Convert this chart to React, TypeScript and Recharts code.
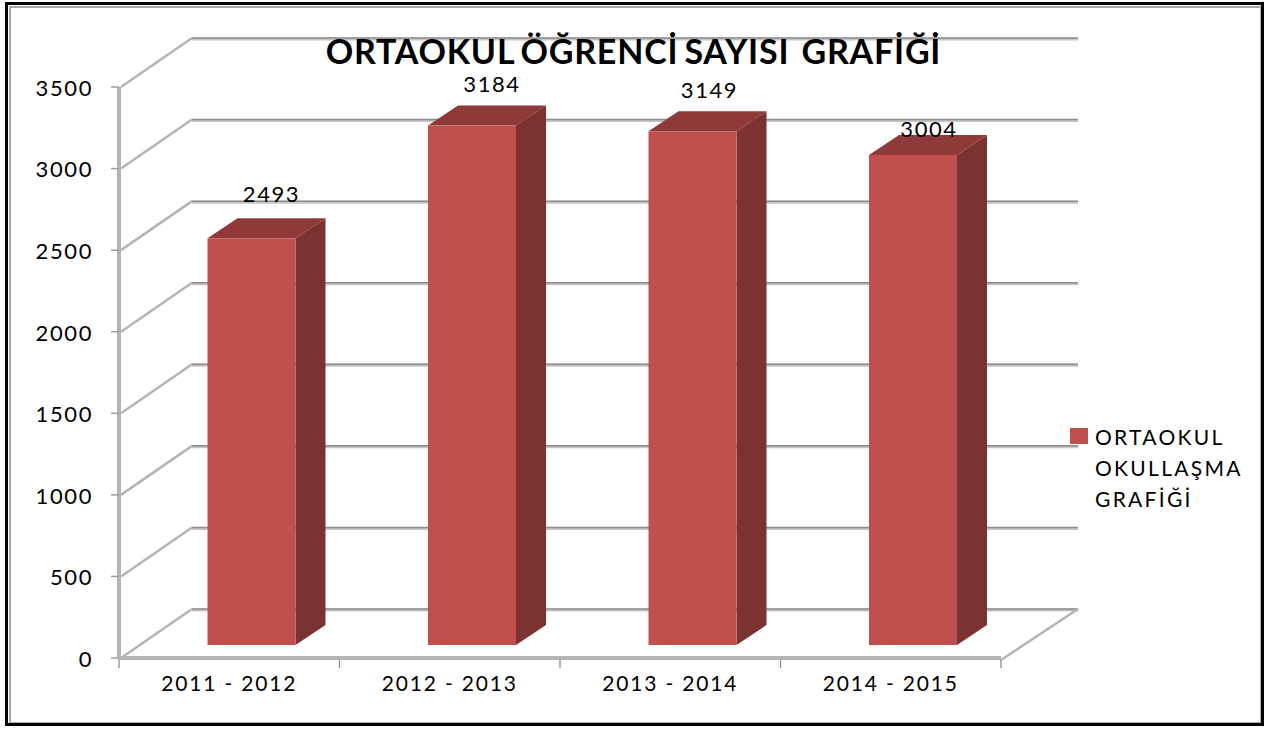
import { Bar, BarChart, CartesianGrid, LabelList, XAxis, YAxis } from 'recharts';

const YEARS = ['2011 - 2012', '2012 - 2013', '2013 - 2014', '2014 - 2015'];
const STUDENTS = [2493, 3184, 3149, 3004];
const Y_TICKS = [0, 500, 1000, 1500, 2000, 2500, 3000, 3500];
const SERIES_NAME = 'ORTAOKUL OKULLAŞMA GRAFİĞİ';
const LEGEND_LINES = ['ORTAOKUL', 'OKULLAŞMA', 'GRAFİĞİ'];
const TITLE = 'ORTAOKUL ÖĞRENCİ SAYISI  GRAFİĞİ';

const chartData = YEARS.map((year, i) => ({ year, students: STUDENTS[i] }));

// fake 3d: how far the back wall sits from the front axis
const WALL_DX = 73;
const WALL_DY = -49;
// bars stand in the middle of the floor
const BAR_DX = 22.5;
const BAR_DY = -13;
const BAR_DEPTH_X = 30;
const BAR_DEPTH_Y = -20;

const PLOT_LEFT = 119;
const PLOT_RIGHT = 1001;
const PLOT_TOP = 87;
const PLOT_BOTTOM = 658;

const FONT = 'Lato, sans-serif';
// data labels sit at uneven heights in the original
const LABEL_LIFT = [45, 42, 42, 26];
const LABEL_SHIFT = [20, 20, 17, 16];

function WallLine(props: any) {
  const { x1, x2, y1 } = props;
  const backY = y1 + WALL_DY;
  const isFloor = y1 >= PLOT_BOTTOM - 1;
  return (
    <g key={props.key}>
      <line x1={x1 + 2} y1={y1} x2={x1 + WALL_DX} y2={backY} stroke="#b4b4b4" strokeWidth={2.5} />
      <line x1={x1 + WALL_DX} y1={backY + 1} x2={x2 + WALL_DX + 4} y2={backY + 1} stroke="#c4c4c4" strokeWidth={3} />
      <line x1={x1 + WALL_DX} y1={backY} x2={x2 + WALL_DX + 4} y2={backY} stroke="#8c8c8c" strokeWidth={1.5} />
      {isFloor && (
        <line x1={x2} y1={y1 + 2} x2={x2 + WALL_DX + 4} y2={backY} stroke="#b4b4b4" strokeWidth={2.5} />
      )}
    </g>
  );
}

function Bar3D(props: any) {
  const { x, y, width, height } = props;
  const left = x + BAR_DX;
  const right = left + width;
  const top = y + BAR_DY;
  const bottom = top + height;
  return (
    <g>
      <polygon
        points={`${left},${top} ${left + BAR_DEPTH_X},${top + BAR_DEPTH_Y} ${right + BAR_DEPTH_X},${top + BAR_DEPTH_Y} ${right},${top}`}
        fill="#8e3a38"
      />
      <polygon
        points={`${right},${top} ${right + BAR_DEPTH_X},${top + BAR_DEPTH_Y} ${right + BAR_DEPTH_X},${bottom + BAR_DEPTH_Y} ${right},${bottom}`}
        fill="#7b3230"
      />
      <rect x={left} y={top} width={width} height={height} fill="#c0504d" />
    </g>
  );
}

function BarValue(props: any) {
  const { x, y, width, value, index } = props;
  return (
    <text
      x={x + BAR_DX + width / 2 + LABEL_SHIFT[index]}
      y={y + BAR_DY - LABEL_LIFT[index]}
      textAnchor="middle"
      dominantBaseline="central"
      fontFamily={FONT}
      fontSize={22}
      letterSpacing={1.6}
      fill="#000"
    >
      {value}
    </text>
  );
}

function YearTick(props: any) {
  const { x, payload, index } = props;
  const band = (PLOT_RIGHT - PLOT_LEFT) / YEARS.length;
  const tickTop = PLOT_BOTTOM + 1;
  return (
    <g>
      <line x1={x - band / 2} y1={tickTop} x2={x - band / 2} y2={tickTop + 9} stroke="#9c9c9c" strokeWidth={1.5} />
      {index === YEARS.length - 1 && (
        <line x1={x + band / 2} y1={tickTop} x2={x + band / 2} y2={tickTop + 9} stroke="#9c9c9c" strokeWidth={1.5} />
      )}
      <text x={x} y={691} textAnchor="middle" fontFamily={FONT} fontSize={21} letterSpacing={1.8} fill="#000">
        {payload.value}
      </text>
    </g>
  );
}

function Legend3D() {
  return (
    <div
      style={{
        position: 'absolute',
        left: 1070,
        top: 421,
        display: 'flex',
        gap: 7,
        fontFamily: FONT,
        fontSize: 21,
        lineHeight: '31px',
        letterSpacing: 2.3,
        color: '#000',
      }}
    >
      <div style={{ width: 18, height: 16, marginTop: 7, background: '#c0504d' }} />
      <div>
        {LEGEND_LINES.map((line) => (
          <div key={line}>{line}</div>
        ))}
      </div>
    </div>
  );
}

export default function App() {
  return (
    <div style={{ position: 'absolute', left: 0, top: 0, width: 1267, height: 731, background: '#fff' }}>
      <BarChart
        width={1267}
        height={731}
        data={chartData}
        barSize={88}
        margin={{ left: 0, right: 1267 - PLOT_RIGHT, top: PLOT_TOP, bottom: 0 }}
      >
        <CartesianGrid vertical={false} horizontal={WallLine} />
        <XAxis
          dataKey="year"
          height={731 - PLOT_BOTTOM}
          tickLine={false}
          axisLine={{ stroke: '#b4b4b4', strokeWidth: 4 }}
          tick={YearTick}
          interval={0}
        />
        <YAxis
          width={PLOT_LEFT}
          domain={[0, 3500]}
          ticks={Y_TICKS}
          tickSize={8}
          tickMargin={18}
          axisLine={{ stroke: '#b4b4b4', strokeWidth: 4 }}
          tickLine={{ stroke: '#9c9c9c', strokeWidth: 1.5 }}
          tick={{ fontFamily: FONT, fontSize: 22, fill: '#000', letterSpacing: 1.6, dy: 1 }}
        />
        <Bar dataKey="students" name={SERIES_NAME} shape={Bar3D} isAnimationActive={false}>
          <LabelList dataKey="students" content={BarValue} />
        </Bar>
      </BarChart>
      <div
        style={{
          position: 'absolute',
          left: 5,
          top: 2,
          width: 1259,
          height: 724,
          boxSizing: 'border-box',
          border: '3px solid #000',
          boxShadow: 'inset 1px 1px 0 #fff, inset 3px 3px 0 #a8a8a8, inset -1px -1px 0 #a8a8a8',
          pointerEvents: 'none',
        }}
      />
      <div
        style={{
          position: 'absolute',
          left: 0,
          width: 1267,
          top: 31,
          textAlign: 'center',
          fontFamily: FONT,
          fontWeight: 700,
          fontSize: 34,
          lineHeight: '40px',
          letterSpacing: 0.8,
          wordSpacing: -3,
          whiteSpace: 'pre',
          color: '#000',
        }}
      >
        {TITLE}
      </div>
      <Legend3D />
    </div>
  );
}
